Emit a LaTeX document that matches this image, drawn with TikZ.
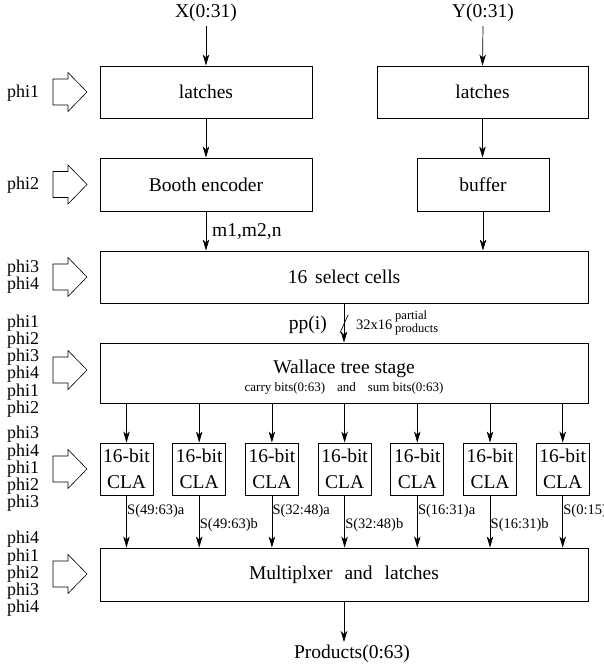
\documentclass[tikz,border=0pt]{standalone}
\usepackage{fontspec}
\setmainfont{Liberation Serif}
\usetikzlibrary{arrows.meta}
\begin{document}
\begin{tikzpicture}[x=1pt,y=-1pt,
  blk/.style={draw, line width=0.9pt, inner sep=0pt},
  lbl/.style={font=\fontsize{19.5}{21}\selectfont, inner sep=0pt},
  sml/.style={font=\fontsize{14.5}{15}\selectfont, inner sep=0pt},
  tinytxt/.style={font=\fontsize{12.5}{10}\selectfont, inner sep=0pt, align=left},
  clk/.style={font=\fontsize{18}{11.5}\selectfont, inner sep=0pt, align=left},
  sig/.style={line width=0.7pt, -{Stealth[length=11pt,width=6.5pt,inset=3pt]}},
  clkarrow/.style={draw, line width=0.6pt, line join=miter}]
\useasboundingbox (0,0) rectangle (603,667);

% inputs
\node[lbl] (xin) at (206,13) {X(0:31)};
\node[lbl] (yin) at (483,13) {Y(0:31)};

% first stage
\node[blk, lbl, minimum width=212pt, minimum height=52pt] (latL) at (206,92) {latches};
\node[blk, lbl, minimum width=211pt, minimum height=52pt] (latR) at (482.5,92) {latches};
\node[blk, lbl, minimum width=212pt, minimum height=53pt] (booth) at (206,184.5) {Booth encoder};
\node[blk, lbl, minimum width=132pt, minimum height=53pt] (buffer) at (483,184.5) {buffer};
\node[blk, lbl, minimum width=488pt, minimum height=52pt] (select) at (344,277) {16\hspace{8pt}select cells};
\node[blk, minimum width=488pt, minimum height=60pt] (wallace) at (344,373) {};
\node[lbl] (wtxt) at (344,369) {Wallace tree stage};
\node[font=\fontsize{13}{14}\selectfont, inner sep=0pt] (cbits) at (344,388)
  {carry bits(0:63)\hspace{12pt}and\hspace{12pt}sum bits(0:63)};

% carry-lookahead adders
\foreach \i in {0,...,6} {
  \node[blk, lbl, minimum width=53pt, minimum height=52pt, align=center,
        font=\fontsize{19.5}{26}\selectfont] (cla\i) at ({126.5+72.7*\i},469) {16-bit\\CLA};
}
\node[blk, lbl, minimum width=488pt, minimum height=53pt] (mux) at (344,574.5)
  {Multiplxer\hspace{12pt}and\hspace{12pt}latches};
\node[lbl] (prod) at (352,654) {Products(0:63)};

% data paths
\draw[sig] ([yshift=-4pt]xin.south) -- (latL.north);
\draw[sig] ([yshift=-4pt]yin.south) -- (latR.north);
\draw[sig] (latL.south) -- (booth.north);
\draw[sig] (latR.south) -- (latR.south |- buffer.north);
\draw[sig] (booth.south) -- (booth.south |- select.north);
\draw[sig] (buffer.south) -- (buffer.south |- select.north);
\node[lbl, anchor=west] (mlbl) at (212,232) {m1,m2,n};

\draw[sig] (select.south) -- (wallace.north);
\coordinate (tick) at (344,324);
\draw[line width=0.7pt] (tick) ++(-4,9) -- ++(8,-18);
\node[lbl, anchor=east] (pp) at (327,325) {pp(i)};
\node[sml, anchor=west] (dim) at (356,325) {32x16};
\node[tinytxt, anchor=west] (pprod) at (395,323) {partial\\products};

\foreach \i in {0,...,6} {
  \draw[sig] (wallace.south -| cla\i.north) -- (cla\i.north);
  \draw[sig] (cla\i.south) -- (cla\i.south |- mux.north);
}
\foreach \i/\t/\y in {0/S(49:63)a/511, 1/S(49:63)b/525, 2/S(32:48)a/511, 3/S(32:48)b/525,
                      4/S(16:31)a/511, 5/S(16:31)b/525, 6/S(0:15)/511} {
  \node[sml, anchor=west] (s\i) at ([xshift=0.5pt]cla\i.south |- 0,\y) {\t};
}

\draw[sig] (mux.south) -- (mux.south |- 0,642);

% clock phases
\foreach \c in {92,184.5,277,370,469,574} {
  \draw[clkarrow] (53,\c-13) -- (68,\c-13) -- (68,\c-19.5) -- (87,\c)
    -- (68,\c+19.5) -- (68,\c+13) -- (53,\c+13) -- cycle;
}
\node[clk, anchor=west] (c1) at (7,93) {phi1};
\node[clk, anchor=west] (c2) at (7,185) {phi2};
\node[clk, anchor=west] (c3) at (7,277) {phi3\\phi4};
\node[clk, anchor=west] (c4) at (7,366) {phi1\\phi2\\phi3\\phi4\\phi1\\phi2};
\node[clk, anchor=west] (c5) at (7,469) {phi3\\phi4\\phi1\\phi2\\phi3};
\node[clk, anchor=west] (c6) at (7,574) {phi4\\phi1\\phi2\\phi3\\phi4};
\end{tikzpicture}
\end{document}
